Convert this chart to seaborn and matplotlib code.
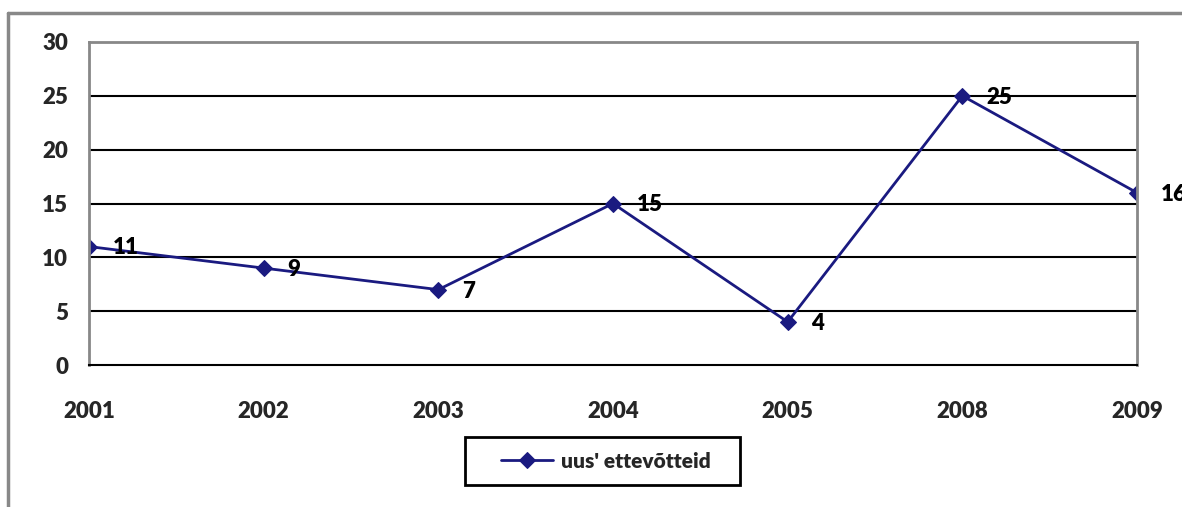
import matplotlib
matplotlib.use("Agg")
import matplotlib.pyplot as plt
import seaborn as sns
import numpy as np
import pandas as pd
from matplotlib.lines import Line2D
from matplotlib.patches import Rectangle

years = ["2001", "2002", "2003", "2004", "2005", "2008", "2009"]
values = [11, 9, 7, 15, 4, 25, 16]
series_name = "uus' ettevõtteid"
yticks = [0, 5, 10, 15, 20, 25, 30]

sns.set_style("white")
plt.rcParams['font.family'] = ['Lato', 'DejaVu Sans']
WEIGHT = 'heavy'

W, H = 1182, 507
fig = plt.figure(figsize=(W / 100, H / 100), dpi=100)
ax = fig.add_axes([89 / W, 1 - 365 / H, (1137 - 89) / W, (365 - 42) / H])

df = pd.DataFrame({"pos": np.arange(len(years)), "val": values, "series": series_name})
navy = "#1a1a80"
sns.lineplot(data=df, x="pos", y="val", hue="series", palette=[navy], ax=ax,
             marker="D", markersize=8, markeredgecolor=navy, linewidth=2, legend=True)

ax.set_xlim(0, len(years) - 1)
ax.set_ylim(0, 30)
ax.set_yticks(yticks)
ax.set_yticklabels([str(t) for t in yticks], fontsize=16, fontweight=WEIGHT)
ax.set_xticks(np.arange(len(years)))
ax.set_xticklabels(years, fontsize=16, fontweight=WEIGHT)
ax.tick_params(axis='y', length=0, pad=15)
ax.tick_params(axis='x', length=0, pad=26)
ax.set_xlabel("")
ax.set_ylabel("")

for t in yticks[1:-1]:
    ax.axhline(t, color="black", linewidth=1.5, zorder=0)

for side in ["left", "top", "right"]:
    ax.spines[side].set_color("#888888")
    ax.spines[side].set_linewidth(2)
ax.spines["bottom"].set_color("black")
ax.spines["bottom"].set_linewidth(1.5)

for i, v in enumerate(values):
    ax.annotate(str(v), (i, v), xytext=(17, -1), textcoords="offset points",
                ha="left", va="center", fontsize=16, fontweight=WEIGHT,
                color="black", annotation_clip=False)

leg = ax.legend(loc="center", bbox_to_anchor=(606 / W, 1 - 461 / H),
                bbox_transform=fig.transFigure, frameon=False,
                prop={'size': 15, 'weight': WEIGHT}, handlelength=2.5,
                borderpad=0.6, handletextpad=0.4)

# legend frame
fig.add_artist(Rectangle((465 / W, 1 - 485 / H), (740 - 465) / W, (485 - 437) / H,
                         transform=fig.transFigure, fill=False,
                         edgecolor="black", linewidth=2))

# outer chart border
fig.add_artist(Line2D([8 / W, 8 / W], [0, 1 - 13 / H], transform=fig.transFigure,
                      color="#888888", linewidth=2.5))
fig.add_artist(Line2D([8 / W, 1], [1 - 13 / H, 1 - 13 / H], transform=fig.transFigure,
                      color="#888888", linewidth=2.5))

fig.savefig("out.png", dpi=100)
